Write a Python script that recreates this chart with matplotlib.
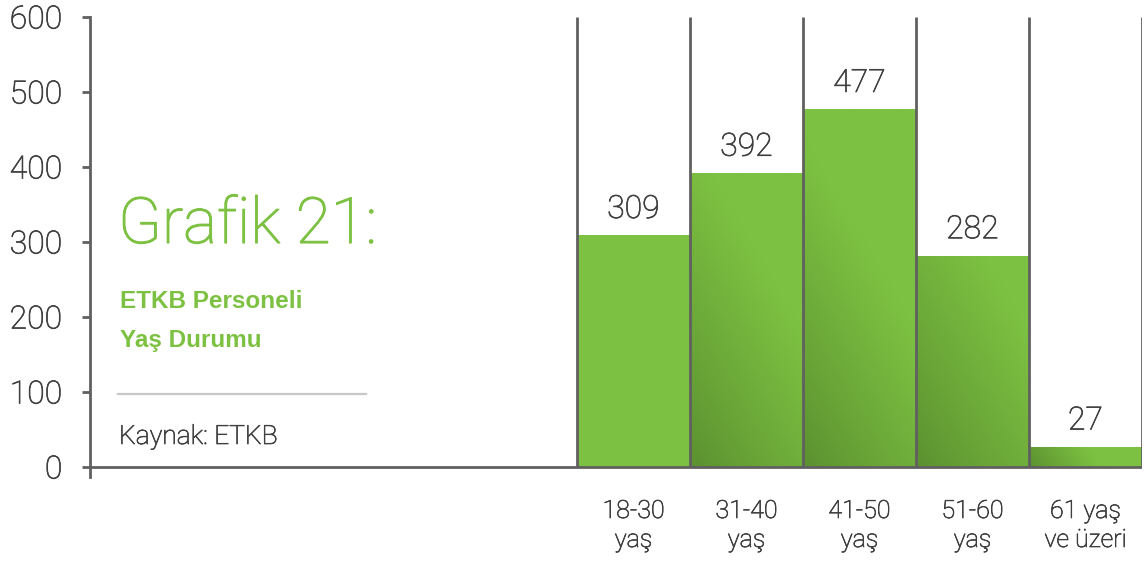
import matplotlib
matplotlib.use("Agg")
import matplotlib.pyplot as plt
import matplotlib.patheffects as pe
import numpy as np
from matplotlib.colors import LinearSegmentedColormap

# Age groups and staff counts
categories = ["18-30", "31-40", "41-50", "51-60", "61 yaş"]
categories_second_line = ["yaş", "yaş", "yaş", "yaş", "ve üzeri"]
counts = [309, 392, 477, 282, 27]
yticks = [0, 100, 200, 300, 400, 500, 600]

title = "Grafik 21:"
subtitle_lines = ["ETKB Personeli", "Yaş Durumu"]
source = "Kaynak: ETKB"

GREEN = "#7DC142"
DARK_GREEN = "#5B9130"
GREY = "#606060"
TEXT = "#3F3F3F"
LIGHT_FONT = "Roboto"
BOLD_FONT = "Liberation Sans"

# a hairline stroke gives the light face a little more body
thicken = [pe.withStroke(linewidth=0.5, foreground=TEXT)]
thicken_green = [pe.withStroke(linewidth=0.8, foreground=GREEN)]

W, H = 1146, 562
fig = plt.figure(figsize=(W / 100, H / 100), dpi=100)

# axes frame in pixels: left spine at x=90, plot top at y=17, zero line at y=467
left_px, right_px, top_px, zero_px = 90, 1142, 17, 467
ymin = -13
px_per_unit = (zero_px - top_px) / 600
bottom_px = zero_px - ymin * px_per_unit
ax = fig.add_axes([left_px / W, 1 - bottom_px / H,
                   (right_px - left_px) / W, (bottom_px - top_px) / H])

n = len(counts)
bar_w_px = (right_px - 577) / n
x_left = -0.5 - (577 - left_px) / bar_w_px
ax.set_xlim(x_left, n - 0.5)
ax.set_ylim(ymin, 600)

cmap = LinearSegmentedColormap.from_list("g", [DARK_GREEN, GREEN])
x = np.arange(n)
bars = ax.bar(x, counts, width=1.0, color=GREEN, edgecolor="none", zorder=2)

# soft diagonal shading from the lower-left corner on all bars but the first
for i, b in enumerate(bars):
    if i == 0:
        continue
    h_px = counts[i] * px_per_unit
    reach = 45 + 120 * min(1.0, h_px / 150)
    xs = np.linspace(0, bar_w_px, 60)
    ys = np.linspace(0, h_px, max(int(h_px / 3), 8))
    X, Y = np.meshgrid(xs, ys)
    t = np.clip((0.85 * X + 0.5 * Y) / reach, 0, 1) ** 0.9
    x0 = b.get_x()
    im = ax.imshow(t, cmap=cmap, vmin=0, vmax=1, origin="lower", aspect="auto",
                   extent=[x0, x0 + 1, 0, counts[i]], zorder=2.5,
                   interpolation="bilinear")
    im.set_clip_path(b)

# separators between the bars, running to the top of the plot
for xe in np.arange(-0.5, n, 1.0):
    ax.plot([xe, xe], [0, 600], color=GREY, lw=2.0, zorder=3, solid_capstyle="butt")
ax.plot([x_left, n - 0.5], [0, 0], color=GREY, lw=2.0, zorder=3, solid_capstyle="butt")

# value labels
for xi, v in zip(x, counts):
    ax.text(xi, v + 23, str(v), ha="center", va="baseline", fontsize=23,
            color=TEXT, family=LIGHT_FONT, fontweight="light", zorder=4,
            path_effects=thicken)

# category labels below the zero line
for xi, c1, c2 in zip(x, categories, categories_second_line):
    ax.text(xi, (zero_px - 518) / px_per_unit, c1, ha="center", va="baseline",
            fontsize=18, color=TEXT, family=LIGHT_FONT, fontweight="light",
            clip_on=False, path_effects=thicken)
    ax.text(xi, (zero_px - 547) / px_per_unit, c2, ha="center", va="baseline",
            fontsize=18, color=TEXT, family=LIGHT_FONT, fontweight="light",
            clip_on=False, path_effects=thicken)

for s in ["top", "right", "bottom"]:
    ax.spines[s].set_visible(False)
ax.spines["left"].set_color(GREY)
ax.spines["left"].set_linewidth(2.0)
ax.set_xticks([])
ax.set_yticks(yticks)
ax.set_yticklabels([str(t) for t in yticks], fontsize=23, color=TEXT,
                   family=LIGHT_FONT, fontweight="light")
for lbl in ax.get_yticklabels():
    lbl.set_path_effects(thicken)
ax.tick_params(axis="y", direction="out", length=5.8, width=2.0, color=GREY, pad=14)

# caption block on the left
fig.text(118 / W, 1 - 243 / H, title, fontsize=46, color=GREEN, family=LIGHT_FONT,
         fontweight="light", ha="left", va="baseline", path_effects=thicken_green)
for line, base_px in zip(subtitle_lines, [308, 347]):
    fig.text(120 / W, 1 - base_px / H, line, fontsize=17.5, color=GREEN,
             family=BOLD_FONT, fontweight="bold", ha="left", va="baseline")
fig.add_artist(plt.Line2D([118 / W, 366 / W], [1 - 394 / H, 1 - 394 / H],
                          color="#C8C8C8", lw=1.6, transform=fig.transFigure))
fig.text(119 / W, 1 - 444 / H, source, fontsize=19, color=TEXT, family=LIGHT_FONT,
         fontweight="light", ha="left", va="baseline", path_effects=thicken)

fig.savefig("out.png", dpi=100)
